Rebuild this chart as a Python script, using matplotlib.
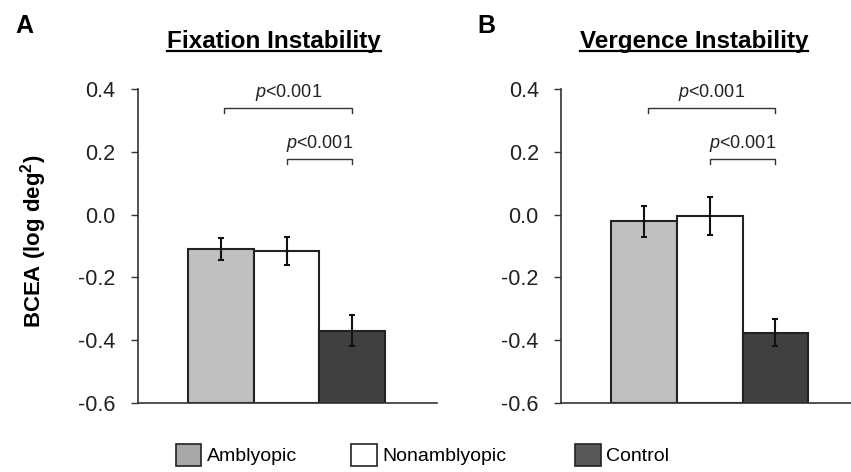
import matplotlib.pyplot as plt
from matplotlib.patches import Patch
from matplotlib.lines import Line2D

plt.rcParams['font.family'] = ['Liberation Sans', 'DejaVu Sans']
plt.rcParams['mathtext.fontset'] = 'custom'
plt.rcParams['mathtext.it'] = 'Liberation Sans:italic'
plt.rcParams['mathtext.rm'] = 'Liberation Sans'
plt.rcParams['mathtext.bf'] = 'Liberation Sans:bold'
plt.rcParams['axes.unicode_minus'] = False

# данные
groups = ['Amblyopic', 'Nonamblyopic', 'Control']
fixation_mean = [-0.110, -0.117, -0.370]
fixation_err = [0.035, 0.045, 0.050]
vergence_mean = [-0.022, -0.004, -0.376]
vergence_err = [0.050, 0.060, 0.043]

yticks = [-0.6, -0.4, -0.2, 0.0, 0.2, 0.4]
ytick_labels = ['-0.6', '-0.4', '-0.2', '0.0', '0.2', '0.4']

# скобки сравнений: (от, до, высота)
brackets = [(0.05, 2.0, 0.34), (1.0, 2.0, 0.177)]
p_label = r'$\it{p}$<0.001'

bar_colors = ['#c0c0c0', '#ffffff', '#404040']
legend_colors = ['#a8a8a8', '#ffffff', '#595959']
edge = '#222222'

fig = plt.figure(figsize=(8.51, 4.72), dpi=100)
ax_a = fig.add_axes([0.162, 0.1462, 0.3513, 0.6653])
ax_b = fig.add_axes([0.6592, 0.1462, 0.3513, 0.6653])

x = list(range(len(groups)))

for ax, means, errs in [(ax_a, fixation_mean, fixation_err),
                        (ax_b, vergence_mean, vergence_err)]:
    ax.bar(x, [m - (-0.6) for m in means], bottom=-0.6, width=1.0,
           color=bar_colors, edgecolor=edge, linewidth=1.5, zorder=2)
    ax.errorbar(x, means, yerr=errs, fmt='none', ecolor='#111111',
                elinewidth=1.5, capsize=2.5, capthick=1.5, zorder=3)
    for x0, x1, h in brackets:
        ax.plot([x0, x0, x1, x1], [h - 0.017, h, h, h - 0.017],
                color='#333333', lw=1.0, clip_on=False)
        ax.text((x0 + x1) / 2, h + 0.036, p_label, ha='center',
                va='baseline', fontsize=13, color='#222222', clip_on=False)
    ax.set_xlim(-1.27, 3.29)
    ax.set_ylim(-0.6, 0.4)
    ax.set_yticks(yticks)
    ax.set_yticklabels(ytick_labels, fontsize=15.5, color='#222222')
    ax.set_xticks([])
    ax.spines['top'].set_visible(False)
    ax.spines['right'].set_visible(False)
    ax.spines['left'].set_color('#333333')
    ax.spines['bottom'].set_color('#333333')
    ax.spines['left'].set_linewidth(1.2)
    ax.spines['bottom'].set_linewidth(1.2)
    ax.tick_params(axis='y', direction='out', length=5, width=1.0,
                   color='#333333', pad=11)

fig.text(0.04, 0.489, r'BCEA (log deg$^\mathbf{2}$)', rotation=90,
         ha='center', va='center', fontsize=16, fontweight='bold')

fig.text(0.018, 0.945, 'A', fontsize=18, fontweight='bold', va='center')
fig.text(0.5605, 0.945, 'B', fontsize=18, fontweight='bold', va='center')

titles = [
    fig.text(0.322, 0.913, 'Fixation Instability', ha='center',
             va='center', fontsize=17.5, fontweight='bold'),
    fig.text(0.8155, 0.913, 'Vergence Instability', ha='center',
             va='center', fontsize=17.5, fontweight='bold'),
]

# подчёркивание заголовков
fig.canvas.draw()
renderer = fig.canvas.get_renderer()
inv = fig.transFigure.inverted()
for t in titles:
    bb = t.get_window_extent(renderer)
    (x0, y0), (x1, y1) = inv.transform([(bb.x0, bb.y0 + 1.5), (bb.x1, bb.y1)])
    fig.add_artist(Line2D([x0, x1], [y0, y0], color='black', lw=1.6,
                          transform=fig.transFigure))

# легенда
legend_x = [0.207, 0.413, 0.676]
for name, col, lx in zip(groups, legend_colors, legend_x):
    fig.legend(handles=[Patch(facecolor=col, edgecolor=edge, linewidth=1.2)],
               labels=[name], loc='center left', bbox_to_anchor=(lx, 0.036),
               frameon=False, fontsize=14, handlelength=1.3, handleheight=1.35,
               handletextpad=0.3, borderpad=0, borderaxespad=0)

fig.savefig('out.png', dpi=100)
